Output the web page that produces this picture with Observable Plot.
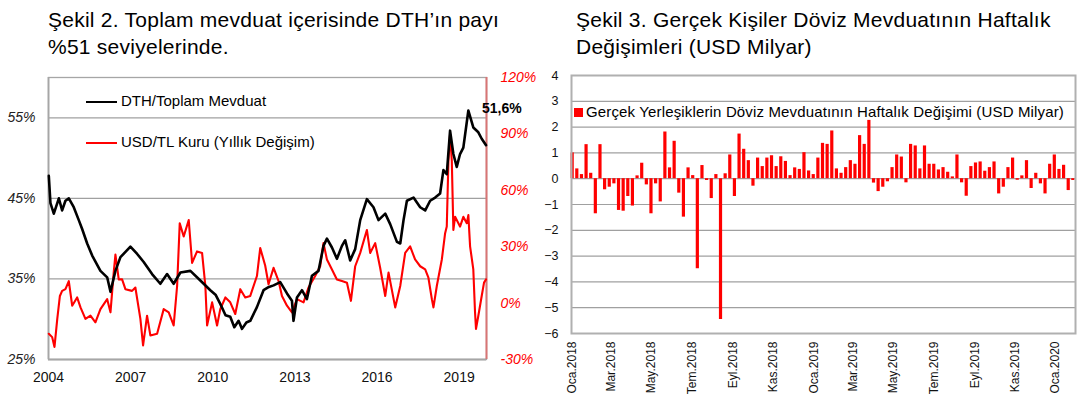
<!DOCTYPE html>
<html><head><meta charset="utf-8">
<script src="https://cdn.jsdelivr.net/npm/d3@7"></script>
<script src="https://cdn.jsdelivr.net/npm/@observablehq/plot@0.6"></script>
<style>
body{margin:0;background:#fff;font-family:"Liberation Sans",Arial,sans-serif;}
#wrap{position:relative;width:1092px;height:398px;overflow:hidden;background:#fff;}
.title{position:absolute;font-size:21px;letter-spacing:0.25px;line-height:27px;color:#000;white-space:nowrap;}
.panel{position:absolute;top:0;}
.panel svg{overflow:visible;}
.leg{position:absolute;white-space:nowrap;color:#000;}
.sw{display:inline-block;vertical-align:middle;}
</style></head><body>
<div id="wrap">
  <div class="title" style="left:48px;top:6px">Şekil 2. Toplam mevduat içerisinde DTH’ın payı<br>%51 seviyelerinde.</div>
  <div class="title" style="left:576px;top:6px">Şekil 3. Gerçek Kişiler Döviz Mevduatının Haftalık<br>Değişimleri (USD Milyar)</div>
  <div id="left" class="panel" style="left:0;width:530px"></div>
  <div id="right" class="panel" style="left:530px;width:562px"></div>
  <div class="leg" style="left:86px;top:92px;font-size:15px;line-height:18px"><span class="sw" style="width:31px;height:2.5px;background:#000;margin-right:4px"></span>DTH/Toplam Mevduat</div>
  <div class="leg" style="left:86px;top:133px;font-size:15px;line-height:18px"><span class="sw" style="width:31px;height:2.5px;background:#ff0000;margin-right:4px"></span>USD/TL Kuru (Yıllık Değişim)</div>
  <div class="leg" style="left:574px;top:103px;font-size:15px;letter-spacing:0.15px;line-height:18px"><span class="sw" style="width:9px;height:9px;background:#ff0000;margin-right:3px;margin-top:-2px"></span>Gerçek Yerleşiklerin Döviz Mevduatının Haftalık Değişimi (USD Milyar)</div>
</div>
<script>
// ---- Şekil 2: DTH / Toplam Mevduat (%) ----
const dthDates = ["2004-01-05","2004-01-27","2004-03-12","2004-05-18","2004-07-01","2004-08-14","2004-09-28","2004-12-03",
"2005-02-08","2005-03-25","2005-05-31","2005-08-06","2005-11-24","2006-02-22","2006-04-07","2006-06-12","2006-08-18","2006-12-29",
"2007-03-29","2007-06-24","2007-10-14","2008-02-01","2008-05-01","2008-07-28","2008-10-26","2009-03-08","2009-07-19","2009-11-29",
"2010-02-10","2010-04-11","2010-06-20","2010-08-22","2010-10-15","2010-12-11","2011-01-26","2011-03-25","2011-05-16","2011-08-13","2011-11-09",
"2012-01-20","2012-03-22","2012-06-19","2012-09-17","2012-11-22","2012-12-13","2013-01-28","2013-04-05","2013-06-10","2013-08-16","2013-11-12",
"2014-01-17","2014-03-04","2014-05-10","2014-07-15","2014-09-20","2014-11-03","2015-01-08","2015-03-16","2015-05-22","2015-08-19","2015-11-15",
"2016-01-21","2016-04-20","2016-06-25","2016-09-23","2016-11-06","2016-12-20","2017-02-03","2017-05-02","2017-07-30","2017-10-05","2017-12-10",
"2018-02-15","2018-04-22","2018-06-05","2018-07-20","2018-09-02","2018-10-16","2018-11-30","2019-01-13","2019-02-26","2019-05-04","2019-07-09",
"2019-09-14","2019-10-29","2019-12-26"];
const dthShare = [47.8,44.4,43.1,45.0,43.5,44.7,45.0,43.9,
42.3,41.2,39.4,37.9,36.0,35.2,33.4,36.0,37.7,39.0,
38.1,37.1,35.6,34.4,35.6,34.4,35.8,36.0,34.8,33.6,
33.0,31.9,30.5,30.3,29.0,29.8,28.8,29.6,29.8,31.5,33.6,
34.0,34.2,34.6,33.2,32.3,29.8,32.7,33.6,32.5,35.4,36.0,
39.1,40.0,38.9,37.5,39.1,39.8,37.3,38.7,42.3,44.9,43.9,
42.3,43.1,41.8,39.6,39.4,42.3,44.7,45.1,43.9,43.5,44.7,
45.1,45.6,48.5,48.0,53.4,50.5,48.9,50.5,51.3,55.9,53.8,
53.2,52.4,51.6];

// ---- USD/TL yıllık değişim (%) ----
const usdDates = ["2004-01-05","2004-02-19","2004-03-21","2004-04-27","2004-06-01","2004-07-01","2004-08-14","2004-09-28","2004-11-12",
"2005-01-17","2005-03-03","2005-05-08","2005-07-14","2005-09-18","2005-11-24","2006-02-22","2006-04-07","2006-05-20","2006-06-12",
"2006-07-26","2006-09-09","2006-10-23","2007-01-20","2007-03-05","2007-05-11","2007-06-16","2007-08-08","2007-09-21","2007-12-20",
"2008-03-17","2008-05-23","2008-07-28","2008-09-12","2008-10-17","2008-12-09","2009-02-14","2009-03-31","2009-06-05","2009-08-11",
"2009-09-24","2009-10-17","2009-12-23","2010-02-27","2010-04-11","2010-06-18","2010-08-22","2010-10-28","2011-01-03","2011-03-10",
"2011-05-16","2011-08-13","2011-09-26","2011-12-01","2012-01-15","2012-03-22","2012-05-28","2012-07-12","2012-09-17","2012-11-22",
"2013-01-28","2013-04-26","2013-07-01","2013-09-28","2013-12-04","2014-01-17","2014-03-04","2014-05-10","2014-07-15","2014-09-20",
"2014-11-26","2015-01-18","2015-03-16","2015-05-22","2015-08-19","2015-10-02","2015-12-08","2016-02-12","2016-04-20","2016-06-03",
"2016-08-31","2016-11-06","2017-01-11","2017-03-18","2017-05-23","2017-07-30","2017-10-05","2017-11-17","2018-01-02","2018-01-23",
"2018-03-09","2018-05-15","2018-06-28","2018-07-20","2018-08-11","2018-09-02","2018-09-25","2018-10-16","2018-11-08","2018-12-22",
"2019-01-13","2019-02-26","2019-04-13","2019-05-04","2019-05-27","2019-07-09","2019-08-01","2019-08-14","2019-09-14","2019-10-29",
"2019-11-29","2019-12-26"];
const usdChange = [-16.3,-18.1,-23.3,-8.4,3.8,6.5,7.4,11.7,-1.4,
3.0,-2.3,-8.4,-6.7,-10.2,-3.2,2.1,-4.9,16.2,25.8,
12.6,12.6,7.4,6.5,8.3,-8.4,-22.5,-6.7,-17.2,-16.3,
-3.2,-4.9,-11.9,9.1,42.5,35.4,44.2,21.4,27.5,26.7,
9.1,-11.9,0.4,-11.9,-3.2,3.0,0.4,-5.8,7.4,3.0,
3.8,14.4,29.3,20.0,10.0,18.8,11.7,3.8,-1.4,-4.9,
2.1,0.4,8.3,14.4,19.6,31.9,23.2,17.9,12.6,11.7,
10.8,1.2,19.6,26.7,38.9,26.7,31.9,18.8,3.8,16.2,
-2.3,9.1,26.7,30.2,23.2,19.6,17.9,13.5,2.1,-2.3,
9.1,23.2,37.2,40.7,75.8,89.8,75.8,38.9,45.9,42.5,
40.7,45.9,42.5,46.8,30.2,17.9,-4.9,-13.7,-6.7,3.8,
10.9,12.6];

const leftTicks = [25, 35, 45, 55];
const leftGrid = [35, 45, 55];
const rightTicks = [-30, 0, 30, 60, 90, 120];
const yearTicks = ["2004","2007","2010","2013","2016","2019"];
const endLabel = "51,6%";

// ---- Şekil 3: haftalık değişim (USD milyar) ----
const firstWeek = "2018-01-01";
const weeklyChange = [1.0,0.38,0.16,1.32,0.21,-1.36,1.32,-0.43,-0.33,-0.2,
-1.23,-1.26,-0.69,-1.06,0.11,0.6,-0.24,-1.36,-0.2,-0.9,
1.81,0.42,1.45,-0.56,-1.49,0.42,0.12,-3.49,0.51,-0.07,
-0.77,0.16,-5.46,0.19,0.92,-0.69,1.73,1.14,0.7,-0.29,
0.8,0.47,0.8,0.89,0.47,0.85,0.67,0.12,0.42,0.36,
1.01,0.3,0.16,0.8,1.37,1.33,1.85,0.38,0.21,0.43,
0.7,0.56,1.67,1.33,2.26,-0.17,-0.5,-0.33,-0.12,0.43,
0.92,0.84,-0.16,1.33,1.27,0.38,1.27,0.56,0.56,0.34,
0.43,0.25,0.07,0.92,-0.16,-0.68,0.47,0.61,0.65,0.29,
0.43,0.65,-0.59,-0.33,0.43,0.8,-0.06,0.11,0.7,-0.38,
0.21,-0.2,-0.59,0.56,0.92,0.36,0.52,-0.46,-0.07];
const monthAbbr = ["Oca","Şub","Mar","Nis","May","Haz","Tem","Ağu","Eyl","Eki","Kas","Ara"];
const monthTicks = ["2018-01-01","2018-03-01","2018-05-01","2018-07-01","2018-09-01","2018-11-01",
"2019-01-01","2019-03-01","2019-05-01","2019-07-01","2019-09-01","2019-11-01","2020-01-01"];
const rightYTicks = [-6,-5,-4,-3,-2,-1,0,1,2,3,4];

const FONT = "Liberation Sans, Arial, sans-serif";
const parse = s => new Date(s + "T00:00:00Z");

// left chart
const dth = dthDates.map((d, i) => ({date: parse(d), v: dthShare[i]}));
const usd = usdDates.map((d, i) => ({date: parse(d), v: usdChange[i]}));
const toLeft = r => 25 + (r + 30) * 35 / 150;
const fromLeft = l => Math.round((l - 25) * 150 / 35 - 30);
const x0 = parse("2004-01-01"), x1 = parse("2020-01-01");

const left = Plot.plot({
  width: 530, height: 398,
  marginLeft: 48, marginRight: 44, marginTop: 77, marginBottom: 39,
  style: {background: "transparent", overflow: "visible", fontFamily: FONT},
  x: {type: "utc", domain: [x0, x1]},
  y: {domain: [25, 60]},
  marks: [
    Plot.ruleY(leftGrid, {stroke: "#a0a0a0", strokeWidth: 1.2}),
    Plot.frame({stroke: "#a6a6a6", strokeWidth: 1.3}),
    Plot.ruleY([25], {stroke: "#a6a6a6", strokeWidth: 2.2}),
    Plot.ruleX([x0], {stroke: "#a6a6a6", strokeWidth: 1.8}),
    Plot.ruleX([x1], {stroke: "#d87575", strokeWidth: 2}),
    Plot.axisY({ticks: leftTicks, tickFormat: d => d + "%", tickSize: 0, tickPadding: 13, fontSize: 14, fontStyle: "italic", label: null, color: "#222"}),
    Plot.axisY({anchor: "right", ticks: rightTicks.map(toLeft), tickFormat: d => fromLeft(d) + "%", tickSize: 0, tickPadding: 14, fontSize: 14, fontStyle: "italic", label: null, color: "#ff0000"}),
    Plot.axisX({ticks: yearTicks.map(y => parse(y + "-01-01")), tickFormat: d3.utcFormat("%Y"), tickSize: 0, tickPadding: 13, fontSize: 14, label: null, color: "#111"}),
    Plot.line(usd, {x: "date", y: d => toLeft(d.v), stroke: "#ff0000", strokeWidth: 2.1}),
    Plot.line(dth, {x: "date", y: "v", stroke: "#000", strokeWidth: 2.6}),
    Plot.text(dth.slice(-1), {x: "date", y: "v", text: () => endLabel, textAnchor: "start", dx: -4, dy: -37, fontSize: 14, fontWeight: "bold", fill: "#000"})
  ]
});
document.getElementById("left").appendChild(left);

// right chart
const week0 = parse(firstWeek);
const weekly = weeklyChange.map((v, i) => ({date: d3.utcDay.offset(week0, 7 * i), v}));
const right = Plot.plot({
  width: 562, height: 398,
  marginLeft: 41, marginRight: 17, marginTop: 75, marginBottom: 65,
  style: {background: "transparent", overflow: "visible", fontFamily: FONT},
  x: {type: "utc", domain: [parse("2017-12-31"), parse("2020-01-31")]},
  y: {domain: [-6, 4]},
  marks: [
    Plot.ruleY(rightYTicks, {stroke: "#a0a0a0", strokeWidth: 1.2}),
    Plot.ruleX(weekly, {x: "date", y1: 0, y2: "v", stroke: "#ff0000", strokeWidth: 3.2}),
    Plot.frame({stroke: "#b0b0b0", strokeWidth: 2}),
    Plot.axisY({ticks: rightYTicks, tickSize: 0, tickPadding: 13, fontSize: 12.5, label: null, color: "#111"}),
    Plot.axisX({ticks: monthTicks.map(parse), tickFormat: d => monthAbbr[d.getUTCMonth()] + "." + d.getUTCFullYear(), tickRotate: -90, tickSize: 0, tickPadding: 8, fontSize: 12, label: null, color: "#111"})
  ]
});
document.getElementById("right").appendChild(right);
</script>
</body></html>
